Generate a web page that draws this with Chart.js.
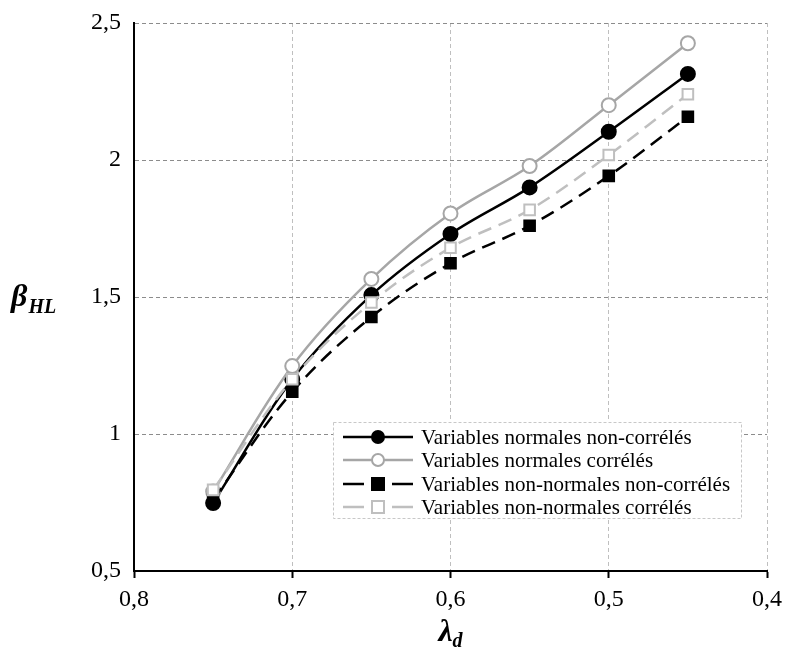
<!DOCTYPE html>
<html>
<head>
<meta charset="utf-8">
<script src="https://cdn.jsdelivr.net/npm/chart.js@4/dist/chart.umd.min.js"></script>
<style>
  html, body { margin: 0; padding: 0; background: #fff; }
  #wrap { width: 785px; height: 658px; position: relative; }
</style>
</head>
<body>
<div id="wrap"><canvas id="c" width="785" height="658"></canvas></div>
<script>
// λd values (x axis, decreasing to the right)
const lambdaD = [0.75, 0.70, 0.65, 0.60, 0.55, 0.50, 0.45];

// βHL for each case
const normNonCorr    = [0.748, 1.20, 1.507, 1.730, 1.900, 2.103, 2.314];
const normCorr       = [0.790, 1.248, 1.566, 1.805, 1.978, 2.200, 2.426];
const nonNormNonCorr = [0.760, 1.154, 1.427, 1.623, 1.760, 1.942, 2.158];
const nonNormCorr    = [0.796, 1.200, 1.480, 1.680, 1.818, 2.018, 2.240];

const seriesNames = [
  'Variables normales non-corrélés',
  'Variables normales corrélés',
  'Variables non-normales non-corrélés',
  'Variables non-normales corrélés'
];

const xTicks = [0.8, 0.7, 0.6, 0.5, 0.4];
const yTicks = [0.5, 1, 1.5, 2, 2.5];

const SERIF = '"Liberation Serif", "Times New Roman", serif';
const fmt = v => String(Math.round(v * 10) / 10).replace('.', ',');
const pts = ys => lambdaD.map((x, i) => ({ x: x, y: ys[i] }));

const datasets = [
  { label: seriesNames[0], data: pts(normNonCorr), borderColor: '#000', backgroundColor: '#000',
    pointStyle: 'circle', pointRadius: 7, borderDash: [], order: 3 },
  { label: seriesNames[1], data: pts(normCorr), borderColor: '#a6a6a6', backgroundColor: '#fff',
    pointStyle: 'circle', pointRadius: 7, borderDash: [], order: 2 },
  { label: seriesNames[2], data: pts(nonNormNonCorr), borderColor: '#000', backgroundColor: '#000',
    pointStyle: 'rect', pointRadius: 7.5, borderDash: [14, 8], order: 1 },
  { label: seriesNames[3], data: pts(nonNormCorr), borderColor: '#bfbfbf', backgroundColor: '#fff',
    pointStyle: 'rect', pointRadius: 7.5, borderDash: [14, 8], order: 0 }
].map(d => Object.assign({
  borderWidth: 2.5,
  pointBorderWidth: 2,
  pointBorderColor: d.borderColor,
  pointBackgroundColor: d.backgroundColor,
  tension: 0.35,
  fill: false
}, d));

// Axis titles with subscripts and the in-plot legend box
const decorations = {
  id: 'decorations',
  afterDraw(chart) {
    const ctx = chart.ctx;
    const area = chart.chartArea;
    ctx.save();

    // y title: βHL
    ctx.fillStyle = '#000';
    ctx.textBaseline = 'alphabetic';
    ctx.textAlign = 'left';
    ctx.font = 'italic bold 32px ' + SERIF;
    const yMid = (area.top + area.bottom) / 2;
    ctx.fillText('β', 11, yMid + 9);
    const bw = ctx.measureText('β').width;
    ctx.font = 'italic bold 20px ' + SERIF;
    ctx.fillText('HL', 11 + bw + 1, yMid + 16);

    // x title: λd
    ctx.font = 'italic bold 32px ' + SERIF;
    const lw = ctx.measureText('λ').width;
    ctx.font = 'italic bold 20px ' + SERIF;
    const dw = ctx.measureText('d').width;
    const xMid = (area.left + area.right) / 2;
    const x0 = xMid - (lw + dw) / 2;
    ctx.font = 'italic bold 32px ' + SERIF;
    ctx.fillText('λ', x0, 641);
    ctx.font = 'italic bold 20px ' + SERIF;
    ctx.fillText('d', x0 + lw, 647);

    // legend
    const bx = 333, by = 422, bwid = 408, bh = 96;
    ctx.fillStyle = '#fff';
    ctx.fillRect(bx, by, bwid, bh);
    ctx.strokeStyle = '#c8c8c8';
    ctx.lineWidth = 1;
    ctx.setLineDash([3, 2]);
    ctx.strokeRect(bx + 0.5, by + 0.5, bwid, bh);
    ctx.setLineDash([]);

    const rowY = [437, 460, 484, 507];
    chart.data.datasets.forEach((ds, i) => {
      const y = rowY[i];
      ctx.strokeStyle = ds.borderColor;
      ctx.lineWidth = 2.5;
      if (ds.borderDash.length) {
        ctx.beginPath(); ctx.moveTo(343, y); ctx.lineTo(364, y); ctx.stroke();
        ctx.beginPath(); ctx.moveTo(392, y); ctx.lineTo(413, y); ctx.stroke();
      } else {
        ctx.beginPath(); ctx.moveTo(343, y); ctx.lineTo(413, y); ctx.stroke();
      }
      ctx.lineWidth = 2;
      ctx.fillStyle = ds.pointBackgroundColor;
      ctx.strokeStyle = ds.pointBorderColor;
      if (ds.pointStyle === 'circle') {
        ctx.beginPath(); ctx.arc(378, y, 6, 0, Math.PI * 2); ctx.fill(); ctx.stroke();
      } else {
        ctx.fillRect(372, y - 6, 12, 12); ctx.strokeRect(372, y - 6, 12, 12);
      }
      ctx.fillStyle = '#000';
      ctx.font = '21px ' + SERIF;
      ctx.textBaseline = 'middle';
      ctx.fillText(ds.label, 421, y + 1);
    });
    ctx.restore();
  }
};

new Chart(document.getElementById('c'), {
  type: 'line',
  data: { datasets: datasets },
  plugins: [decorations],
  options: {
    responsive: false,
    animation: false,
    devicePixelRatio: 1,
    layout: { padding: { top: 23, right: 18, left: 0, bottom: 0 } },
    plugins: { legend: { display: false }, tooltip: { enabled: false } },
    scales: {
      x: {
        type: 'linear',
        reverse: true,
        min: 0.4, max: 0.8,
        afterBuildTicks: s => { s.ticks = xTicks.map(v => ({ value: v })); },
        afterFit: s => { s.height = 87; s.paddingLeft = 0; s.paddingRight = 0; },
        ticks: { callback: v => fmt(v), color: '#000', font: { family: SERIF, size: 24 }, padding: 7, maxRotation: 0 },
        grid: { color: '#bfbfbf', lineWidth: 1, tickColor: '#000', tickWidth: 2, tickLength: 7 },
        border: { display: true, color: '#000', width: 2, dash: [4, 3] }
      },
      y: {
        type: 'linear',
        min: 0.5, max: 2.5,
        afterBuildTicks: s => { s.ticks = yTicks.map(v => ({ value: v })); },
        afterFit: s => { s.width = 134; s.paddingTop = 0; s.paddingBottom = 0; },
        ticks: { callback: v => fmt(v), color: '#000', font: { family: SERIF, size: 24 }, padding: 13 },
        grid: { color: '#8c8c8c', lineWidth: 1, drawTicks: false },
        border: { display: true, color: '#000', width: 2, dash: [4, 3] }
      }
    }
  }
});
</script>
</body>
</html>
